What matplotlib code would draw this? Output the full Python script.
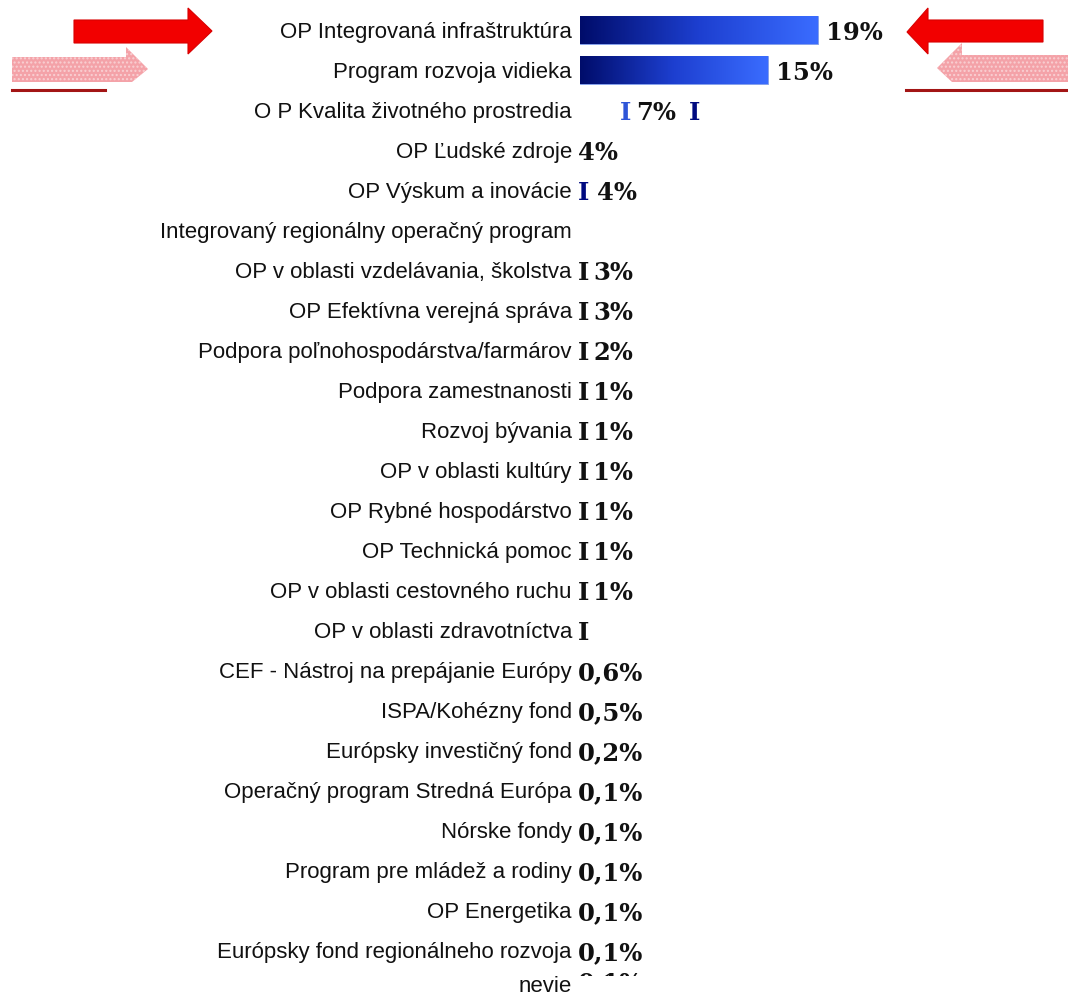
import matplotlib
matplotlib.use("Agg")
import matplotlib.pyplot as plt
import numpy as np
from matplotlib.patches import Polygon
from matplotlib.transforms import Bbox

# data
labels = [
    "OP Integrovaná infraštruktúra",
    "Program rozvoja vidieka",
    "O P Kvalita životného prostredia",
    "OP Ľudské zdroje",
    "OP Výskum a inovácie",
    "Integrovaný regionálny operačný program",
    "OP v oblasti vzdelávania, školstva",
    "OP Efektívna verejná správa",
    "Podpora poľnohospodárstva/farmárov",
    "Podpora zamestnanosti",
    "Rozvoj bývania",
    "OP v oblasti kultúry",
    "OP Rybné hospodárstvo",
    "OP Technická pomoc",
    "OP v oblasti cestovného ruchu",
    "OP v oblasti zdravotníctva",
    "CEF - Nástroj na prepájanie Európy",
    "ISPA/Kohézny fond",
    "Európsky investičný fond",
    "Operačný program Stredná Európa",
    "Nórske fondy",
    "Program pre mládež a rodiny",
    "OP Energetika",
    "Európsky fond regionálneho rozvoja",
    "nevie",
]
bar_values = [19, 15]
value_texts = ["19%", "15%", "7%", "4%", "4%", "", "3%", "3%", "2%",
               "1%", "1%", "1%", "1%", "1%", "1%", "",
               "0,6%", "0,5%", "0,2%", "0,1%", "0,1%", "0,1%", "0,1%",
               "0,1%", "0,1%"]
# rows with a stray "I" glyph in front of the value
marker_rows = [6, 7, 8, 9, 10, 11, 12, 13, 14, 15]

W, H = 1068, 998
fig = plt.figure(figsize=(W / 100, H / 100), dpi=100)
fig.patch.set_facecolor("white")

label_font = {"family": ["Liberation Sans", "DejaVu Sans"], "size": 16}
val_font = {"family": ["DejaVu Serif"], "weight": "bold", "size": 17.5}

ax = fig.add_axes([580 / W, 0, 1 - 580 / W, 1])
ax.set_xlim(0, 488 / 12.5)
ax.set_ylim((H - 30) / 40, -30 / 40)
ax.axis("off")

n = len(labels)
ypos = np.arange(n)
dy = 0.07  # small nudge so text centres sit on the row

# gradient bars
grad = np.linspace(0, 1, 256).reshape(1, -1)
cmap = matplotlib.colors.LinearSegmentedColormap.from_list("blu", ["#000c6a", "#1d3fd0", "#3a6cff"])
bars = ax.barh(ypos[:len(bar_values)], bar_values, height=0.7, color="none",
               edgecolor="#6f8fe8", linewidth=0.6)
for b in bars:
    x0, y0 = b.get_x(), b.get_y()
    im = ax.imshow(grad, extent=[x0, x0 + b.get_width(), y0 + b.get_height(), y0],
                   aspect="auto", cmap=cmap, zorder=1)
    im.set_clip_path(b)

# category labels
for i, lab in enumerate(labels):
    y = i - 0.08 if i == n - 1 else i + dy
    ax.text(-0.65, y, lab, ha="right", va="center", color="#111111", **label_font)

# value labels
for i, txt in enumerate(value_texts):
    y = i + dy
    if i in marker_rows:
        ax.text(-0.15, y, "I", ha="left", va="center", color="#111111", **val_font)
        if txt:
            ax.text(1.05, y, txt, ha="left", va="center", color="#111111", **val_font)
        continue
    if not txt:
        continue
    if i < len(bar_values):
        ax.text(bar_values[i] + 0.7, y, txt, ha="left", va="center", color="#111111", **val_font)
    elif i == 2:
        ax.text(3.2, y, "I", ha="left", va="center", color="#2e55d8", **val_font)
        ax.text(4.5, y, txt, ha="left", va="center", color="#111111", **val_font)
        ax.text(8.7, y, "I", ha="left", va="center", color="#000a80", **val_font)
    elif i == 4:
        ax.text(-0.15, y, "I", ha="left", va="center", color="#000a80", **val_font)
        ax.text(1.4, y, txt, ha="left", va="center", color="#111111", **val_font)
    elif i == n - 1:
        # value of the last row is mostly hidden, only its top shows
        t = ax.text(-0.15, i - 0.16, txt, ha="left", va="center", color="#111111", **val_font)
        t.set_clip_box(Bbox([[0, H - 976], [W, H]]))
        t.set_clip_on(True)
    else:
        ax.text(-0.15, y, txt, ha="left", va="center", color="#111111", **val_font)


# decorative arrows (pixel coords, top-down)
def px(points):
    return [(x / W, 1 - y / H) for x, y in points]


red = "#f20000"
pink = "#f4a2a8"
line_red = "#a31515"

left_red = [(74, 20), (188, 20), (188, 8), (212, 31), (188, 54), (188, 43), (74, 43)]
left_pink = [(12, 57), (126, 57), (126, 47), (148, 69), (132, 82), (12, 82)]
right_red = [(1043, 20), (928, 20), (928, 8), (907, 32), (928, 54), (928, 42), (1043, 42)]
right_pink = [(1068, 55), (962, 55), (962, 43), (937, 68), (952, 82), (1068, 82)]

for pts in (left_pink, right_pink):
    fig.patches.append(Polygon(px(pts), closed=True, facecolor=pink, edgecolor="#f9d0d3",
                               hatch="....", linewidth=0, transform=fig.transFigure))
for pts in (left_red, right_red):
    fig.patches.append(Polygon(px(pts), closed=True, facecolor=red, edgecolor="#d80000",
                               linewidth=0.8, transform=fig.transFigure))

fig.lines.append(plt.Line2D([12 / W, 105 / W], [1 - 90 / H] * 2, color=line_red,
                            linewidth=2.2, transform=fig.transFigure))
fig.lines.append(plt.Line2D([906 / W, 1], [1 - 90 / H] * 2, color=line_red,
                            linewidth=2.2, transform=fig.transFigure))

fig.savefig("out.png", dpi=100, facecolor="white")
